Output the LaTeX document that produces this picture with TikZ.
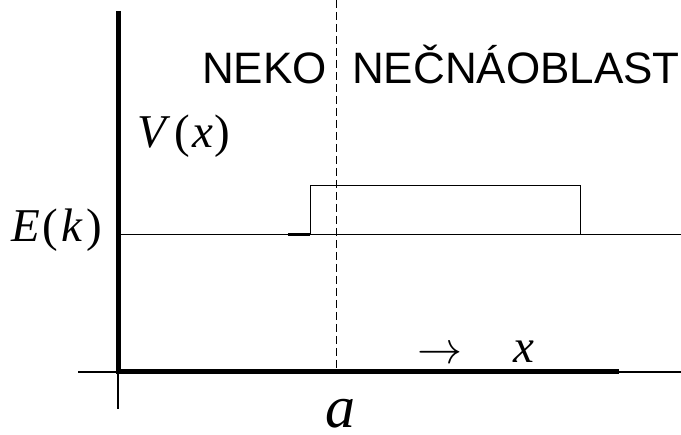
\documentclass[tikz,border=0pt]{standalone}
\usepackage{fix-cm}
\usepackage{fontspec}
\setmainfont{Liberation Serif}
\newfontfamily\labelfont{Liberation Sans}
\usepackage{tikz}
\usetikzlibrary{positioning}

\begin{document}
\begin{tikzpicture}[
    x=1pt, y=-1pt,
    region/.style={
        inner sep=0pt,
        anchor=base west,
        font=\labelfont\fontsize{44}{44}\selectfont
    },
    mathlabel/.style={
        inner sep=0pt,
        anchor=base west,
        font=\fontsize{47}{47}\selectfont
    },
    axis/.style={line width=5pt},
    thinline/.style={line width=1.3pt},
    boundary/.style={line width=1pt, dash pattern=on 8pt off 4pt}
]
\useasboundingbox (0,0) rectangle (681,435);

% axes
\coordinate (origin) at (118,372);
\coordinate (ytop) at (118,11);
\coordinate (ybottom) at (118,409);
\coordinate (xleft) at (78,372);
\coordinate (xthick) at (619,372);
\coordinate (xright) at (681,372);

% energy level and barrier
\coordinate (estart) at (120,234.5);
\coordinate (eend) at (681,234.5);
\coordinate (stepfoot) at (288,234.5);
\coordinate (barrierleft) at (310,234.5);
\coordinate (barriertop) at (580,185.5);

% boundary at a
\coordinate (btop) at (336,0);
\coordinate (bbottom) at (336,372);

\node[region] (neko) at (202,84) {NEKO};
\node[region] (necnao) at (352,84) {NEČNÁOBLAST};
\node[mathlabel] (vlabel) at (137,148) {\textit{V}\kern4pt(\kern2pt\textit{x}\kern2pt)};
\node[mathlabel] (elabel) at (11,242) {\textit{E}\kern3pt(\kern3pt\textit{k}\kern3pt)};
\node[mathlabel, font=\fontsize{45}{45}\selectfont] (xarrow) at (417,364) {$\rightarrow$};
\node[mathlabel] (xlabel) at (513,363) {\textit{x}};
\node[mathlabel, font=\fontsize{60}{60}\selectfont] (alabel) at (325,428) {\textit{a}};

\draw[thinline] (xleft) -- (xright);
\draw[thinline] (origin) -- (ybottom);
\draw[axis] (ytop) -- (origin) -- (xthick);

\draw[thinline] (estart) -- (eend);
\draw[line width=2.2pt] (stepfoot) -- (barrierleft);
\draw[line width=1pt] (barrierleft) rectangle (barriertop);

\draw[boundary] (btop) -- (bbottom);

\end{tikzpicture}
\end{document}
